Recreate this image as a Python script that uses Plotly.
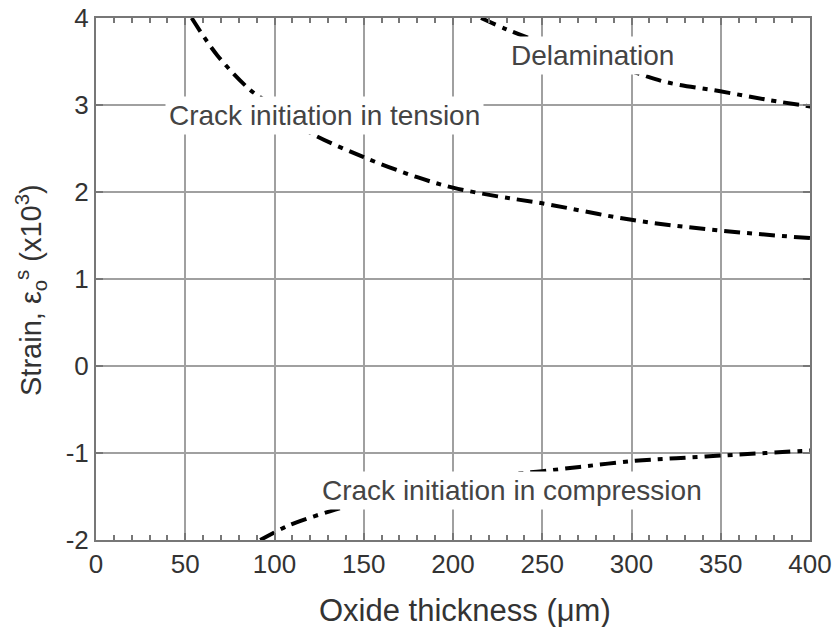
import plotly.graph_objects as go

# Data
tension_x = [53.6, 68, 86, 94, 105, 120, 150, 180, 200, 225, 250, 300, 348, 400]
tension_y = [4.0, 3.57, 3.18, 3.06, 2.88, 2.68, 2.40, 2.17, 2.05, 1.95, 1.87, 1.68, 1.56, 1.47]

delam_x = [215.7, 230, 249, 275, 301, 320, 349, 376, 401]
delam_y = [4.0, 3.87, 3.72, 3.54, 3.38, 3.26, 3.16, 3.06, 2.98]

comp_x = [92, 105, 112, 131, 140, 170, 200, 230, 250, 275, 302, 325, 350, 375, 401]
comp_y = [-2.0, -1.86, -1.80, -1.67, -1.62, -1.49, -1.37, -1.25, -1.21, -1.15, -1.09, -1.06, -1.03, -1.00, -0.97]

labels = ["Crack initiation in tension", "Delamination", "Crack initiation in compression"]
label_x = [128, 278, 233]
label_y = [2.885, 3.57, -1.43]

x_ticks = [0, 50, 100, 150, 200, 250, 300, 350, 400]
y_ticks = [-2, -1, 0, 1, 2, 3, 4]

x_title = "Oxide thickness (\u03bcm)"
y_title = "Strain, \u03b5<sub>o</sub><sup>s</sup> (x10<sup>3</sup>)"

FONT = "Liberation Sans, Arial, Helvetica, sans-serif"
line_style = dict(color="black", width=4, dash="16px,7px,5px,7px")

fig = go.Figure()
for xs, ys in [(tension_x, tension_y), (delam_x, delam_y), (comp_x, comp_y)]:
    fig.add_trace(go.Scatter(x=xs, y=ys, mode="lines", line=dict(shape="spline", **line_style),
                             showlegend=False, hoverinfo="skip"))

for t, x, y in zip(labels, label_x, label_y):
    fig.add_annotation(x=x, y=y, text=t, showarrow=False, bgcolor="white", borderpad=3,
                       font=dict(family=FONT, size=28, color="#444"))

# axis titles placed as annotations for exact positioning
fig.add_annotation(xref="paper", yref="paper", x=-0.091, y=0.479, text=y_title,
                   textangle=-90, showarrow=False, xanchor="center", yanchor="middle",
                   font=dict(family=FONT, size=29, color="#333"))
fig.add_annotation(xref="paper", yref="paper", x=0.517, y=-0.136, text=x_title,
                   showarrow=False, xanchor="center", yanchor="middle",
                   font=dict(family=FONT, size=31, color="#333"))

axis_common = dict(showline=True, linecolor="#777", linewidth=2, mirror="ticks",
                   showgrid=True, gridcolor="#a0a0a0", gridwidth=1.5, zeroline=False,
                   ticks="inside", ticklen=7, tickwidth=1.5, tickcolor="#777",
                   automargin=False,
                   tickfont=dict(family=FONT, size=26, color="#333"))

fig.update_xaxes(range=[0, 400], tickvals=x_ticks, ticktext=[str(v) for v in x_ticks],
                 minor=dict(dtick=10, ticks="inside", ticklen=5, tickcolor="#777", tickwidth=1.5, showgrid=False),
                 **axis_common)
fig.update_yaxes(range=[-2, 4], tickvals=y_ticks, ticktext=[str(v) for v in y_ticks],
                 **axis_common)

fig.update_layout(width=836, height=627, margin=dict(l=96, r=26, t=18, b=87),
                  plot_bgcolor="white", paper_bgcolor="white")

fig.write_html("out.html")
